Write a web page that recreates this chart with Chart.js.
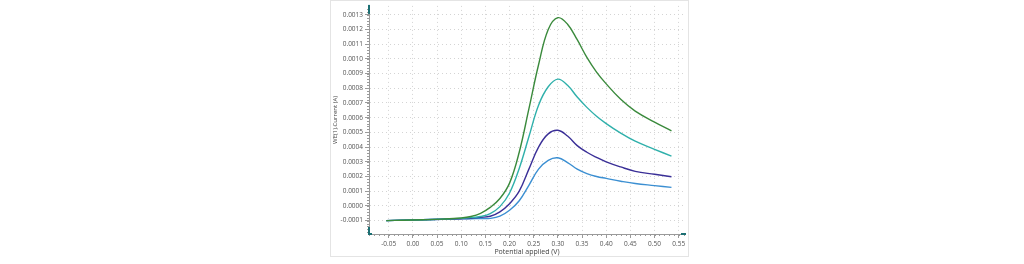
<!DOCTYPE html>
<html>
<head>
<meta charset="utf-8">
<script src="https://cdn.jsdelivr.net/npm/chart.js@4.4.1/dist/chart.umd.min.js"></script>
<style>
  html, body { margin: 0; padding: 0; background: #fff; }
  #wrap { width: 1024px; height: 264px; position: relative; }
</style>
</head>
<body>
<div id="wrap"><canvas id="chart" width="1024" height="264"></canvas></div>
<script>
// potential (V)
const potential = [-0.055, -0.02, 0.02, 0.06, 0.10, 0.12, 0.14, 0.16, 0.18, 0.20, 0.22, 0.24, 0.26, 0.28, 0.30, 0.32, 0.34, 0.36, 0.38, 0.40, 0.43, 0.46, 0.50, 0.535];

// current (A) for each run
const greenRun  = [-0.000100, -0.000097, -0.000094, -0.000090, -0.000082, -0.000072, -0.000050, -0.000010, 0.000050, 0.000155, 0.000365, 0.000660, 0.000960, 0.001200, 0.001280, 0.001235, 0.001130, 0.001010, 0.000910, 0.000830, 0.000725, 0.000645, 0.000570, 0.000510];
const tealRun   = [-0.000100, -0.000097, -0.000094, -0.000090, -0.000085, -0.000080, -0.000072, -0.000052, -0.000005, 0.000088, 0.000255, 0.000470, 0.000685, 0.000810, 0.000862, 0.000820, 0.000740, 0.000670, 0.000610, 0.000560, 0.000495, 0.000440, 0.000385, 0.000338];
const indigoRun = [-0.000100, -0.000097, -0.000094, -0.000091, -0.000087, -0.000084, -0.000078, -0.000070, -0.000040, 0.000015, 0.000100, 0.000250, 0.000400, 0.000490, 0.000514, 0.000475, 0.000410, 0.000365, 0.000330, 0.000300, 0.000265, 0.000235, 0.000215, 0.000198];
const blueRun   = [-0.000100, -0.000097, -0.000094, -0.000091, -0.000088, -0.000087, -0.000086, -0.000085, -0.000070, -0.000030, 0.000035, 0.000140, 0.000250, 0.000310, 0.000327, 0.000295, 0.000250, 0.000220, 0.000200, 0.000187, 0.000168, 0.000152, 0.000138, 0.000126];

const seriesNames  = ['Run 4', 'Run 3', 'Run 2', 'Run 1'];
const seriesColors = ['#3a8a3c', '#2fb0ab', '#3a2f97', '#3b8fd2'];

const xTicks = [-0.05, 0.00, 0.05, 0.10, 0.15, 0.20, 0.25, 0.30, 0.35, 0.40, 0.45, 0.50, 0.55];
const yTicks = [-0.0001, 0.0000, 0.0001, 0.0002, 0.0003, 0.0004, 0.0005, 0.0006, 0.0007, 0.0008, 0.0009, 0.0010, 0.0011, 0.0012, 0.0013];

const xMin = -0.0908, xMax = 0.563;
const yMin = -0.000191, yMax = 0.00136;

function toPoints(ys) {
    return potential.map((x, i) => ({ x: x, y: ys[i] }));
}

const runs = [greenRun, tealRun, indigoRun, blueRun];

// frame, minor ticks and the little scroll handles on the axes
const decorPlugin = {
    id: 'decor',
    beforeDraw(chart) {
        const ctx = chart.ctx;
        ctx.save();
        ctx.fillStyle = '#fff';
        ctx.fillRect(0, 0, chart.width, chart.height);
        ctx.strokeStyle = '#e4e4e4';
        ctx.lineWidth = 1;
        ctx.strokeRect(330.5, 0.5, 358, 256);
        ctx.restore();
    },
    afterDraw(chart) {
        const ctx = chart.ctx;
        const xs = chart.scales.x, ys = chart.scales.y;
        const area = chart.chartArea;
        ctx.save();
        ctx.strokeStyle = '#9a9a9a';
        ctx.lineWidth = 1;
        ctx.beginPath();
        for (let v = -0.09; v <= 0.5625; v += 0.01) {
            const px = Math.round(xs.getPixelForValue(v)) + 0.5;
            ctx.moveTo(px, area.bottom);
            ctx.lineTo(px, area.bottom + 2);
        }
        for (let v = -0.00018; v <= 0.00136; v += 0.00002) {
            const py = Math.round(ys.getPixelForValue(v)) + 0.5;
            ctx.moveTo(area.left - 2, py);
            ctx.lineTo(area.left, py);
        }
        ctx.stroke();
        ctx.fillStyle = '#1c6f73';
        ctx.fillRect(area.left - 1, area.top - 1, 2, 9);
        ctx.fillRect(area.left - 1, area.bottom - 7, 2, 7);
        ctx.fillRect(area.left - 1, area.bottom - 1, 4, 2);
        ctx.fillRect(area.right - 4, area.bottom - 1, 5, 2);
        ctx.restore();
    }
};

new Chart(document.getElementById('chart'), {
    type: 'line',
    data: {
        datasets: runs.map((r, i) => ({
            label: seriesNames[i],
            data: toPoints(r),
            borderColor: seriesColors[i],
            borderWidth: 1.4,
            pointRadius: 0,
            fill: false,
            tension: 0.4
        }))
    },
    options: {
        responsive: false,
        animation: false,
        layout: { padding: { left: 330, right: 339, top: 5, bottom: 8 } },
        plugins: {
            legend: { display: false },
            tooltip: { enabled: false }
        },
        scales: {
            x: {
                type: 'linear',
                min: xMin,
                max: xMax,
                afterBuildTicks: s => { s.ticks = xTicks.map(v => ({ value: v })); },
                afterFit: s => { s.height = 22; },
                border: { color: '#9a9a9a', dash: [1, 3] },
                grid: { color: '#d4d4d4', tickLength: 4, tickColor: '#9a9a9a', tickBorderDash: [] },
                ticks: {
                    padding: 2,
                    color: '#555',
                    font: { family: 'Open Sans', size: 6.5 },
                    callback: v => v.toFixed(2)
                },
                title: {
                    display: true,
                    text: 'Potential applied (V)',
                    color: '#444',
                    font: { family: 'Open Sans', size: 7 },
                    padding: { top: -2, bottom: 0 }
                }
            },
            y: {
                type: 'linear',
                min: yMin,
                max: yMax,
                afterBuildTicks: s => { s.ticks = yTicks.map(v => ({ value: v })); },
                afterFit: s => { s.width = 39; },
                border: { color: '#9a9a9a', dash: [1, 3] },
                grid: { color: '#d4d4d4', tickLength: 4, tickColor: '#9a9a9a', tickBorderDash: [] },
                ticks: {
                    padding: 2,
                    color: '#555',
                    font: { family: 'Open Sans', size: 6.5 },
                    callback: v => v.toFixed(4)
                },
                title: {
                    display: true,
                    text: 'WE(1).Current (A)',
                    color: '#444',
                    font: { family: 'Open Sans', size: 6 },
                    padding: { top: 2, bottom: 0 }
                }
            }
        }
    },
    plugins: [decorPlugin]
});
</script>
</body>
</html>
